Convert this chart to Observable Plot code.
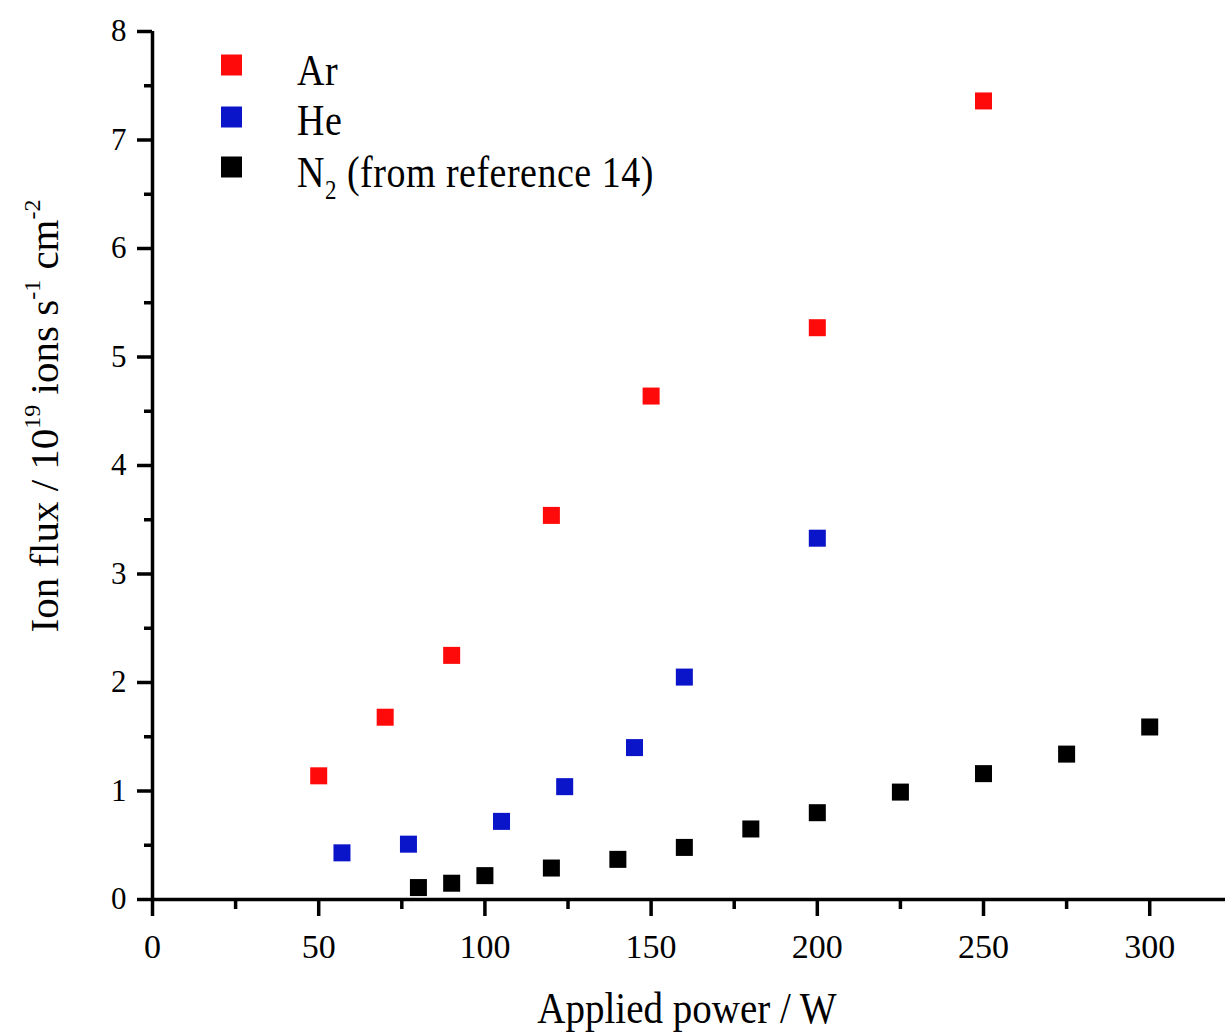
<!DOCTYPE html>
<html>
<head>
<meta charset="utf-8">
<script src="https://cdn.jsdelivr.net/npm/d3@7"></script>
<script src="https://cdn.jsdelivr.net/npm/@observablehq/plot@0.6"></script>
<style>
  html, body { margin: 0; padding: 0; background: white; }
  #chart { position: relative; width: 1225px; height: 1035px; }
</style>
</head>
<body>
<div id="chart"></div>
<script>
// ---- data ----
const seriesNames = ["Ar", "He", "N2"];
const seriesColors = ["#ff0a0a", "#0a14c8", "#000000"];

const arPower = [50, 70, 90, 120, 150, 200, 250];
const arFlux  = [1.14, 1.68, 2.25, 3.54, 4.64, 5.27, 7.36];

const hePower = [57, 77, 105, 124, 145, 160, 200];
const heFlux  = [0.43, 0.51, 0.72, 1.04, 1.40, 2.05, 3.33];

const n2Power = [80, 90, 100, 120, 140, 160, 180, 200, 225, 250, 275, 300];
const n2Flux  = [0.11, 0.15, 0.22, 0.29, 0.37, 0.48, 0.65, 0.80, 0.99, 1.16, 1.34, 1.59];

const xMajorTicks = [0, 50, 100, 150, 200, 250, 300];
const xMinorTicks = [25, 75, 125, 175, 225, 275];
const yMajorTicks = [0, 1, 2, 3, 4, 5, 6, 7, 8];
const yMinorTicks = [0.5, 1.5, 2.5, 3.5, 4.5, 5.5, 6.5, 7.5];

// ---- build table ----
const data = [
  ...arPower.map((p, i) => ({series: "Ar", power: p, flux: arFlux[i]})),
  ...hePower.map((p, i) => ({series: "He", power: p, flux: heFlux[i]})),
  ...n2Power.map((p, i) => ({series: "N2", power: p, flux: n2Flux[i]}))
];

const FONT = "'Liberation Serif', 'Times New Roman', serif";
const SW = 3.5;

const plot = Plot.plot({
  width: 1225,
  height: 1035,
  marginLeft: 152,
  marginRight: 0,
  marginTop: 31,
  marginBottom: 136,
  x: {domain: [0, 322.8]},
  y: {domain: [0, 8]},
  color: {domain: seriesNames, range: seriesColors},
  style: {fontFamily: FONT, background: "white", color: "black"},
  marks: [
    Plot.axisX({ticks: xMajorTicks, tickSize: 17, strokeWidth: SW, fontSize: 34, tickPadding: 17, label: null, tickFormat: d => String(d)}),
    Plot.axisX({ticks: xMinorTicks, tickSize: 10, strokeWidth: SW, label: null, tickFormat: () => ""}),
    Plot.axisY({ticks: yMajorTicks, tickSize: 15, strokeWidth: SW, fontSize: 31, tickPadding: 11, label: null, tickFormat: d => String(d)}),
    Plot.axisY({ticks: yMinorTicks, tickSize: 8, strokeWidth: SW, label: null, tickFormat: () => ""}),
    Plot.ruleY([0], {strokeWidth: SW}),
    Plot.ruleX([0], {strokeWidth: SW}),
    Plot.dot(data, {x: "power", y: "flux", fill: "series", symbol: "square", r: 9.6, stroke: null})
  ]
});

document.getElementById("chart").appendChild(plot);

const svg = d3.select(plot);
const color = plot.scale("color");

// x-axis title
svg.append("text")
  .attr("transform", "translate(687,1023) scale(1,1.13)")
  .attr("text-anchor", "middle")
  .attr("font-family", FONT).attr("font-size", 39)
  .attr("fill", "black")
  .text("Applied power / W");

// y-axis title with superscripts
const yt = svg.append("text")
  .attr("transform", "translate(58,416) rotate(-90)")
  .attr("text-anchor", "middle")
  .attr("font-family", FONT).attr("font-size", 41)
  .attr("fill", "black");
yt.append("tspan").text("Ion flux / 10");
yt.append("tspan").attr("font-size", 24).attr("dy", -18).text("19");
yt.append("tspan").attr("dy", 18).text(" ions s");
yt.append("tspan").attr("font-size", 24).attr("dy", -18).text("-1");
yt.append("tspan").attr("dy", 18).text(" cm");
yt.append("tspan").attr("font-size", 24).attr("dy", -18).text("-2");

// legend
const legendY = [65, 117, 167];
const legendBase = [85, 135, 187];
seriesNames.forEach((name, i) => {
  svg.append("rect")
    .attr("x", 221).attr("y", legendY[i] - 10.5)
    .attr("width", 21).attr("height", 21)
    .attr("fill", color.apply(name));
  const t = svg.append("text")
    .attr("transform", `translate(297,${legendBase[i]}) scale(1,1.15)`)
    .attr("text-anchor", "start")
    .attr("font-family", FONT).attr("font-size", 38)
    .attr("letter-spacing", 0.5)
    .attr("fill", "black");
  if (name === "N2") {
    t.append("tspan").text("N");
    t.append("tspan").attr("font-size", 23).attr("dy", 10).text("2");
    t.append("tspan").attr("dy", -10).text(" (from reference 14)");
  } else {
    t.text(name);
  }
});
</script>
</body>
</html>
